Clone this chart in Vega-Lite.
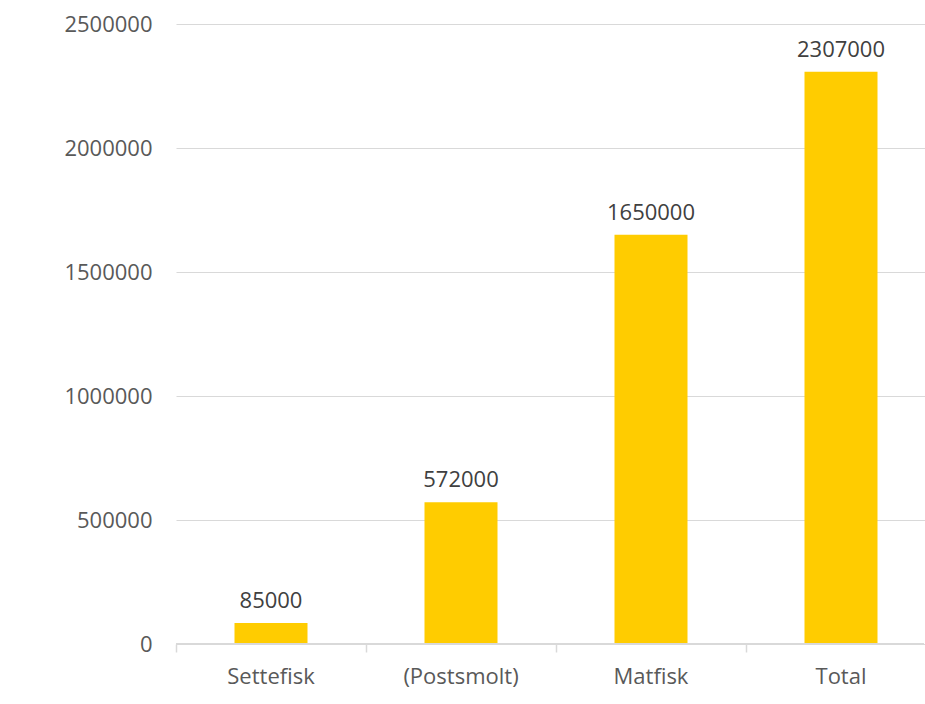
{
  "$schema": "https://vega.github.io/schema/vega-lite/v6.json",
  "width": 748,
  "height": 620,
  "autosize": {"type": "none"},
  "padding": {"left": 176, "top": 24, "right": 1, "bottom": 60},
  "background": "white",
  "config": {
    "view": {"stroke": null},
    "font": "Open Sans"
  },
  "data": {
    "values": [
      {"kategori": "Settefisk", "verdi": 85000},
      {"kategori": "(Postsmolt)", "verdi": 572000},
      {"kategori": "Matfisk", "verdi": 1650000},
      {"kategori": "Total", "verdi": 2307000}
    ]
  },
  "encoding": {
    "x": {
      "field": "kategori",
      "type": "nominal",
      "sort": null,
      "scale": {"paddingInner": 0, "paddingOuter": 0, "range": [0, 760]}
    },
    "y": {
      "field": "verdi",
      "type": "quantitative",
      "scale": {"domain": [0, 2500000], "nice": false}
    }
  },
  "layer": [
    {
      "mark": {"type": "bar", "color": "#FFCC00", "size": 73},
      "encoding": {
        "x": {
          "field": "kategori",
          "type": "nominal",
          "sort": null,
          "axis": {
            "title": null,
            "orient": "bottom",
            "domain": false,
            "ticks": false,
            "tickSize": 0,
            "labelPadding": 22,
            "labelFontSize": 22,
            "labelColor": "#595959",
            "labelAngle": 0,
            "grid": false
          }
        },
        "y": {
          "field": "verdi",
          "type": "quantitative",
          "axis": {
            "title": null,
            "values": [0, 500000, 1000000, 1500000, 2000000, 2500000],
            "format": "d",
            "domain": false,
            "ticks": false,
            "tickSize": 0,
            "labelPadding": 24,
            "labelFontSize": 22,
            "labelColor": "#595959",
            "grid": true,
            "gridColor": "#D9D9D9",
            "gridWidth": 1
          }
        }
      }
    },
    {
      "mark": {"type": "text", "dy": -22, "fontSize": 22, "color": "#404040", "baseline": "middle"},
      "encoding": {
        "text": {"field": "verdi", "type": "quantitative", "format": "d"},
        "x": {
          "field": "kategori",
          "type": "nominal",
          "sort": null,
          "axis": {
            "title": null,
            "orient": "bottom",
            "domain": false,
            "labels": false,
            "ticks": true,
            "tickSize": 8,
            "tickColor": "#D9D9D9",
            "tickWidth": 1.5,
            "bandPosition": 0,
            "grid": false
          }
        }
      }
    },
    {
      "mark": {"type": "rule", "color": "#D9D9D9", "strokeWidth": 1.5},
      "encoding": {
        "x": {"value": 0},
        "x2": {"value": 748},
        "y": {"datum": 0}
      }
    }
  ],
  "resolve": {"axis": {"x": "independent"}}
}
